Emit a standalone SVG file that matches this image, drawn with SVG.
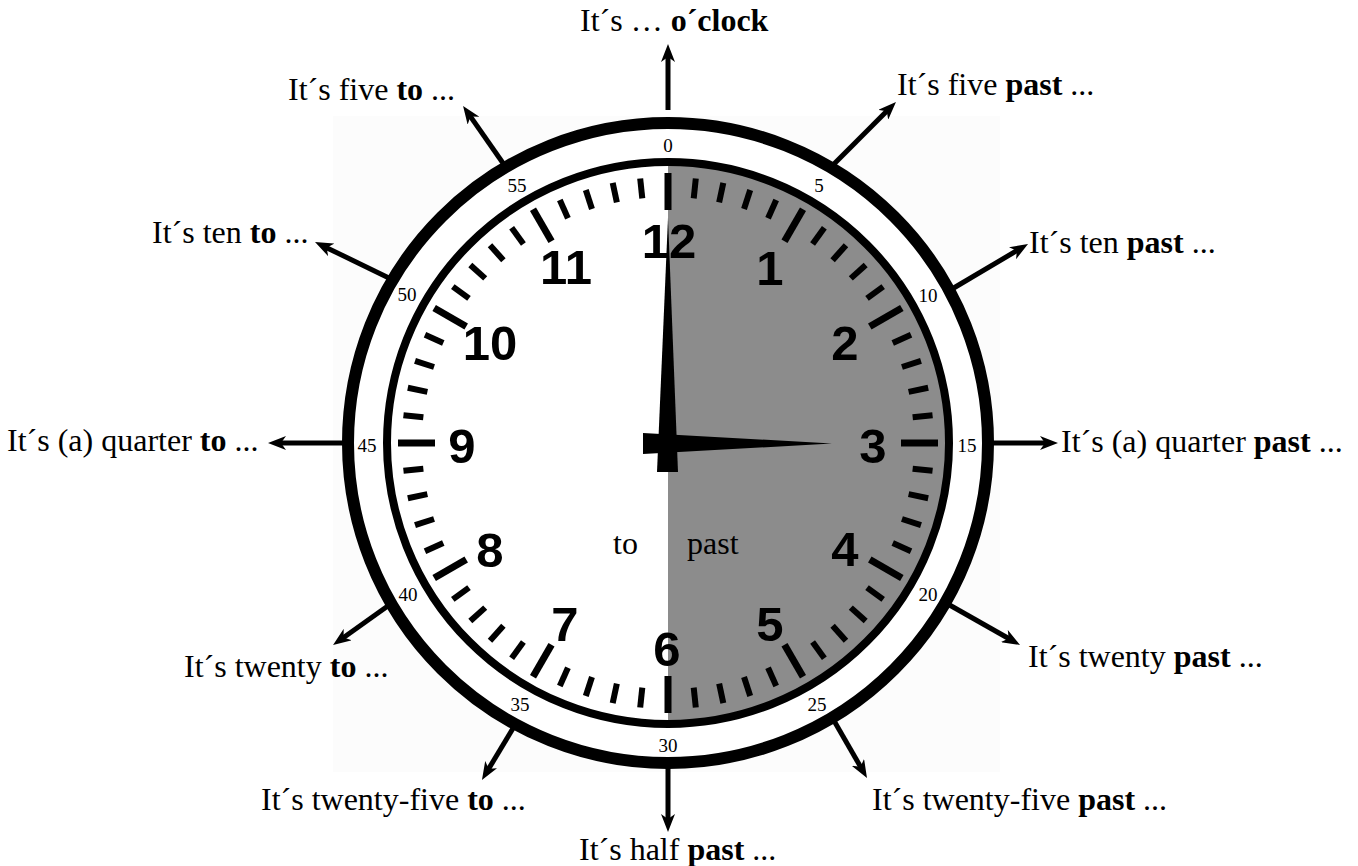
<svg xmlns="http://www.w3.org/2000/svg" xmlns:xlink="http://www.w3.org/1999/xlink" width="1358" height="866" viewBox="0 0 1358 866">
<style>
.lbl{font-family:"Liberation Serif","Times New Roman",serif;font-size:32px;fill:#000}
.num{font-family:"Liberation Sans",Arial,sans-serif;font-weight:bold;font-size:49px;text-anchor:middle;fill:#000}
.mn{font-family:"Liberation Serif","Times New Roman",serif;font-size:19px;text-anchor:middle;fill:#000}
.arr{stroke:#000;stroke-width:5;fill:none;marker-end:url(#ah)}
</style>
<defs>
<marker id="ah" viewBox="0 0 18 14" refX="8" refY="7" markerWidth="18" markerHeight="14" markerUnits="userSpaceOnUse" orient="auto">
<path d="M0,0 L18,7 L0,14 L5,7 Z" fill="#000"/>
</marker>
<line id="tmaj" x1="668" y1="173" x2="668" y2="210" stroke="#000" stroke-width="7"/>
<line id="tmin" x1="668" y1="177" x2="668" y2="197" stroke="#000" stroke-width="6"/>
</defs>
<rect width="1358" height="866" fill="#fff"/>
<rect x="333" y="116" width="667" height="656" fill="#fcfcfc"/>
<g id="clock">
<circle cx="668" cy="443" r="326" fill="#fff"/>
<circle cx="668" cy="443" r="320" fill="none" stroke="#000" stroke-width="12"/>
<circle cx="668" cy="443" r="278" fill="#fff"/>
<path d="M668,165 A278,278 0 0 1 668,721 Z" fill="#8c8c8c"/>
<circle cx="668" cy="443" r="281" fill="none" stroke="#000" stroke-width="8"/>
<g id="ticks">
<use xlink:href="#tmaj"/>
<use xlink:href="#tmin" transform="rotate(6 668 443)"/>
<use xlink:href="#tmin" transform="rotate(12 668 443)"/>
<use xlink:href="#tmin" transform="rotate(18 668 443)"/>
<use xlink:href="#tmin" transform="rotate(24 668 443)"/>
<use xlink:href="#tmaj" transform="rotate(30 668 443)"/>
<use xlink:href="#tmin" transform="rotate(36 668 443)"/>
<use xlink:href="#tmin" transform="rotate(42 668 443)"/>
<use xlink:href="#tmin" transform="rotate(48 668 443)"/>
<use xlink:href="#tmin" transform="rotate(54 668 443)"/>
<use xlink:href="#tmaj" transform="rotate(60 668 443)"/>
<use xlink:href="#tmin" transform="rotate(66 668 443)"/>
<use xlink:href="#tmin" transform="rotate(72 668 443)"/>
<use xlink:href="#tmin" transform="rotate(78 668 443)"/>
<use xlink:href="#tmin" transform="rotate(84 668 443)"/>
<use xlink:href="#tmaj" transform="rotate(90 668 443)"/>
<use xlink:href="#tmin" transform="rotate(96 668 443)"/>
<use xlink:href="#tmin" transform="rotate(102 668 443)"/>
<use xlink:href="#tmin" transform="rotate(108 668 443)"/>
<use xlink:href="#tmin" transform="rotate(114 668 443)"/>
<use xlink:href="#tmaj" transform="rotate(120 668 443)"/>
<use xlink:href="#tmin" transform="rotate(126 668 443)"/>
<use xlink:href="#tmin" transform="rotate(132 668 443)"/>
<use xlink:href="#tmin" transform="rotate(138 668 443)"/>
<use xlink:href="#tmin" transform="rotate(144 668 443)"/>
<use xlink:href="#tmaj" transform="rotate(150 668 443)"/>
<use xlink:href="#tmin" transform="rotate(156 668 443)"/>
<use xlink:href="#tmin" transform="rotate(162 668 443)"/>
<use xlink:href="#tmin" transform="rotate(168 668 443)"/>
<use xlink:href="#tmin" transform="rotate(174 668 443)"/>
<use xlink:href="#tmaj" transform="rotate(180 668 443)"/>
<use xlink:href="#tmin" transform="rotate(186 668 443)"/>
<use xlink:href="#tmin" transform="rotate(192 668 443)"/>
<use xlink:href="#tmin" transform="rotate(198 668 443)"/>
<use xlink:href="#tmin" transform="rotate(204 668 443)"/>
<use xlink:href="#tmaj" transform="rotate(210 668 443)"/>
<use xlink:href="#tmin" transform="rotate(216 668 443)"/>
<use xlink:href="#tmin" transform="rotate(222 668 443)"/>
<use xlink:href="#tmin" transform="rotate(228 668 443)"/>
<use xlink:href="#tmin" transform="rotate(234 668 443)"/>
<use xlink:href="#tmaj" transform="rotate(240 668 443)"/>
<use xlink:href="#tmin" transform="rotate(246 668 443)"/>
<use xlink:href="#tmin" transform="rotate(252 668 443)"/>
<use xlink:href="#tmin" transform="rotate(258 668 443)"/>
<use xlink:href="#tmin" transform="rotate(264 668 443)"/>
<use xlink:href="#tmaj" transform="rotate(270 668 443)"/>
<use xlink:href="#tmin" transform="rotate(276 668 443)"/>
<use xlink:href="#tmin" transform="rotate(282 668 443)"/>
<use xlink:href="#tmin" transform="rotate(288 668 443)"/>
<use xlink:href="#tmin" transform="rotate(294 668 443)"/>
<use xlink:href="#tmaj" transform="rotate(300 668 443)"/>
<use xlink:href="#tmin" transform="rotate(306 668 443)"/>
<use xlink:href="#tmin" transform="rotate(312 668 443)"/>
<use xlink:href="#tmin" transform="rotate(318 668 443)"/>
<use xlink:href="#tmin" transform="rotate(324 668 443)"/>
<use xlink:href="#tmaj" transform="rotate(330 668 443)"/>
<use xlink:href="#tmin" transform="rotate(336 668 443)"/>
<use xlink:href="#tmin" transform="rotate(342 668 443)"/>
<use xlink:href="#tmin" transform="rotate(348 668 443)"/>
<use xlink:href="#tmin" transform="rotate(354 668 443)"/>
</g>
<g id="numerals">
<text class="num" x="669" y="258">12</text>
<text class="num" x="770" y="285">1</text>
<text class="num" x="845" y="360">2</text>
<text class="num" x="873" y="463">3</text>
<text class="num" x="845" y="566">4</text>
<text class="num" x="770" y="641">5</text>
<text class="num" x="667" y="666">6</text>
<text class="num" x="565" y="641">7</text>
<text class="num" x="490" y="567">8</text>
<text class="num" x="462" y="463">9</text>
<text class="num" x="490" y="360">10</text>
<text class="num" x="566" y="284">11</text>
</g>
<g id="minutes">
<text class="mn" x="668" y="152">0</text>
<text class="mn" x="819" y="192">5</text>
<text class="mn" x="928" y="302">10</text>
<text class="mn" x="967" y="452">15</text>
<text class="mn" x="928" y="601">20</text>
<text class="mn" x="817" y="711">25</text>
<text class="mn" x="668" y="752">30</text>
<text class="mn" x="520" y="711">35</text>
<text class="mn" x="408" y="601">40</text>
<text class="mn" x="367" y="452">45</text>
<text class="mn" x="407" y="301">50</text>
<text class="mn" x="517" y="192">55</text>
</g>
<g id="halves">
<text class="lbl" x="613" y="554">to</text>
<text class="lbl" x="687" y="554">past</text>
</g>
<g id="hands">
<polygon points="657,472 678,472 668,218" fill="#000"/>
<polygon points="643,433 832,443.5 643,454" fill="#000"/>
</g>
</g>
<g id="connectors">
<line class="arr" x1="668" y1="110" x2="668" y2="54"/>
<line class="arr" x1="832" y1="166" x2="888.9" y2="109.1"/>
<line class="arr" x1="952" y1="289" x2="1019.4" y2="249.1"/>
<line class="arr" x1="990" y1="443" x2="1048" y2="443"/>
<line class="arr" x1="946" y1="603" x2="1011.3" y2="640"/>
<line class="arr" x1="833" y1="719" x2="862" y2="769.3"/>
<line class="arr" x1="668" y1="768" x2="668" y2="822"/>
<line class="arr" x1="515" y1="725" x2="487.1" y2="771.4"/>
<line class="arr" x1="392" y1="603" x2="341.2" y2="639.2"/>
<line class="arr" x1="348" y1="443" x2="278" y2="443"/>
<line class="arr" x1="391" y1="279" x2="324" y2="246.4"/>
<line class="arr" x1="505" y1="166" x2="468.8" y2="114.1"/>
</g>
<g id="label-0"><text class="lbl" x="580" y="31">It´s … <tspan font-weight="bold">o´clock</tspan></text></g>
<g id="label-5"><text class="lbl" x="897" y="95">It´s five <tspan font-weight="bold">past</tspan> ...</text></g>
<g id="label-10"><text class="lbl" x="1029" y="253">It´s ten <tspan font-weight="bold">past</tspan> ...</text></g>
<g id="label-15"><text class="lbl" x="1061" y="452">It´s (a) quarter <tspan font-weight="bold">past</tspan> ...</text></g>
<g id="label-20"><text class="lbl" x="1028" y="667">It´s twenty <tspan font-weight="bold">past</tspan> ...</text></g>
<g id="label-25"><text class="lbl" x="872" y="810">It´s twenty-five <tspan font-weight="bold">past</tspan> ...</text></g>
<g id="label-30"><text class="lbl" x="579" y="860">It´s half <tspan font-weight="bold">past</tspan> ...</text></g>
<g id="label-35"><text class="lbl" x="261" y="810">It´s twenty-five <tspan font-weight="bold">to</tspan> ...</text></g>
<g id="label-40"><text class="lbl" x="184" y="677">It´s twenty <tspan font-weight="bold">to</tspan> ...</text></g>
<g id="label-45"><text class="lbl" x="7" y="451">It´s (a) quarter <tspan font-weight="bold">to</tspan> ...</text></g>
<g id="label-50"><text class="lbl" x="152" y="243">It´s ten <tspan font-weight="bold">to</tspan> ...</text></g>
<g id="label-55"><text class="lbl" x="288" y="100">It´s five <tspan font-weight="bold">to</tspan> ...</text></g>
</svg>
